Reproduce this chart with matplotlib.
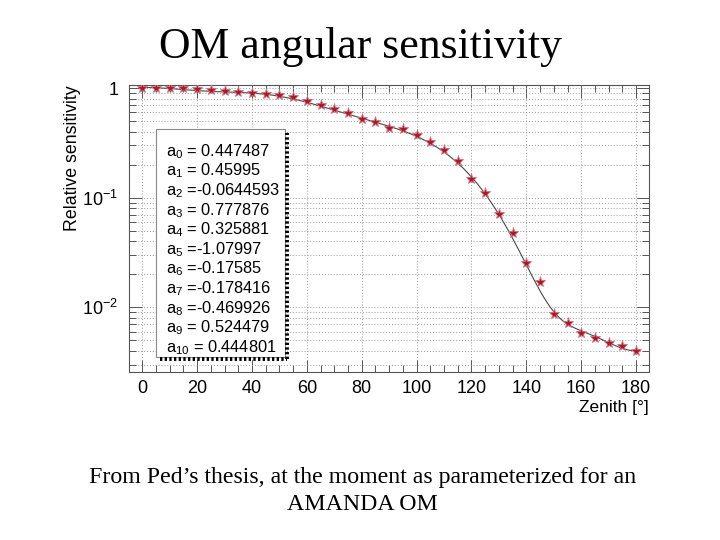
import numpy as np
import matplotlib
matplotlib.use("Agg")
import matplotlib.pyplot as plt
from matplotlib.patches import Rectangle
from matplotlib.lines import Line2D
from matplotlib.ticker import FixedLocator, LogLocator, NullFormatter, MultipleLocator

plt.rcParams["font.family"] = ["Liberation Sans", "DejaVu Sans"]
plt.rcParams["mathtext.fontset"] = "custom"
plt.rcParams["mathtext.rm"] = "Liberation Sans"
plt.rcParams["mathtext.it"] = "Liberation Sans:italic"

# ─────────────────────────────────────────────
# Data
# ─────────────────────────────────────────────
zenith = [0, 5, 10, 15, 20, 25, 30, 35, 40, 45, 50, 55, 60, 65, 70, 75, 80, 85,
          90, 95, 100, 105, 110, 115, 120, 125, 130, 135, 140, 145, 150, 155,
          160, 165, 170, 175, 180]
sensitivity = [1.0, 0.998, 0.995, 0.99, 0.985, 0.965, 0.945, 0.925, 0.895, 0.876,
               0.858, 0.823, 0.766, 0.704, 0.644, 0.592, 0.525, 0.493, 0.435,
               0.420, 0.373, 0.324, 0.272, 0.214, 0.147, 0.110, 0.071, 0.048,
               0.0255, 0.0171, 0.0087, 0.00725, 0.0058, 0.0053, 0.00476,
               0.00445, 0.00403]

# fit parameters shown in the box: sum a_i * cos(theta)^i
fit_params = [0.447487, 0.45995, -0.0644593, 0.777876, 0.325881, -1.07997,
              -0.17585, -0.178416, -0.469926, 0.524479, 0.444801]
param_labels = ["0.447487", "0.45995", "-0.0644593", "0.777876", "0.325881",
                "-1.07997", "-0.17585", "-0.178416", "-0.469926", "0.524479",
                "0.444801"]

x_ticks = [0, 20, 40, 60, 80, 100, 120, 140, 160, 180]
y_ticks = [1e-2, 1e-1, 1]
y_tick_labels = [r"$\mathregular{10^{-2}}$", r"$\mathregular{10^{-1}}$", "1"]

GRID = "#9a9a9a"
FRAME = "#555555"

fig = plt.figure(figsize=(7.2, 5.4), dpi=100)
ax = fig.add_axes([0.1796, 0.3117, 0.7218, 0.5303])

# fit curve
theta = np.linspace(0, 180, 721)
c = np.cos(np.radians(theta))
fit = sum(a * c ** i for i, a in enumerate(fit_params))
ax.plot(theta, fit, color="#4a4a4a", lw=0.8, zorder=3)

# measured points
ax.plot(zenith, sensitivity, ls="none", marker="*", ms=8,
        markerfacecolor="#a51d2d", markeredgecolor="#d9707c", markeredgewidth=0.6,
        zorder=4)

ax.set_yscale("log")
ax.set_xlim(-4.7, 184.7)
ax.set_ylim(0.00259, 1.058)

ax.xaxis.set_major_locator(FixedLocator(x_ticks))
ax.xaxis.set_minor_locator(MultipleLocator(5))
ax.set_yticks(y_ticks)
ax.set_yticklabels(y_tick_labels)
ax.yaxis.set_minor_locator(LogLocator(base=10, subs=np.arange(2, 10)))
ax.yaxis.set_minor_formatter(NullFormatter())

ax.tick_params(which="both", direction="in", top=True, right=True, color=FRAME,
               width=0.7)
ax.tick_params(which="major", length=9, labelsize=13, pad=6)
ax.tick_params(which="minor", length=5)
ax.tick_params(axis="y", which="major", pad=8)

ax.grid(True, which="major", axis="x", ls=(0, (1, 2)), color=GRID, lw=0.7)
ax.grid(True, which="both", axis="y", ls=(0, (1, 2)), color=GRID, lw=0.7)
ax.set_axisbelow(True)
for s in ax.spines.values():
    s.set_color(FRAME)
    s.set_linewidth(0.8)

ax.set_xlabel("Zenith [°]", fontsize=12.5, loc="right")
ax.xaxis.set_label_coords(1.0, -0.1)
ax.set_ylabel("Relative sensitivity", fontsize=12.8, loc="top")
ax.yaxis.set_label_coords(-0.092, 1.0)

# ─────────────────────────────────────────────
# Parameter box (ROOT style with shadow)
# ─────────────────────────────────────────────
W, H = 720.0, 540.0
bx0, by0, bx1, by1 = 155.5 / W, 1 - 357 / H, 285 / W, 1 - 128.5 / H
box = Rectangle((bx0, by0), bx1 - bx0, by1 - by0, transform=fig.transFigure,
                facecolor="white", edgecolor="#8a8a8a", lw=0.8, zorder=5)
fig.add_artist(box)
fig.add_artist(Line2D([bx1 + 1.5 / W, bx1 + 1.5 / W], [by0 - 1.5 / H, by1 - 4 / H],
                      transform=fig.transFigure, color="black", lw=2.8,
                      ls=(0, (0.6, 0.6)), zorder=6))
fig.add_artist(Line2D([bx0 + 4 / W, bx1 + 1.5 / W], [by0 - 1.5 / H, by0 - 1.5 / H],
                      transform=fig.transFigure, color="black", lw=2.8,
                      ls=(0, (0.6, 0.6)), zorder=6))

for i, val in enumerate(param_labels):
    sep = " =" if val.startswith("-") else " = "
    y = 1 - (151.5 + i * 19.6) / H
    fig.text(166.5 / W, y, r"a$_{\mathregular{%d}}$%s%s" % (i, sep, val),
             fontsize=11.8, va="center", ha="left", zorder=7)

# ─────────────────────────────────────────────
# Title and caption
# ─────────────────────────────────────────────
fig.text(0.5, 1 - 47 / H, "OM angular sensitivity", family="Liberation Serif",
         fontsize=31.5, ha="center", va="center")
fig.text(0.503, 1 - 477 / H,
         "From Ped\u2019s thesis, at the moment as parameterized for an",
         family="Liberation Serif", fontsize=17.2, ha="center", va="center")
fig.text(0.503, 1 - 505 / H, "AMANDA OM", family="Liberation Serif",
         fontsize=17.2, ha="center", va="center")

fig.savefig("out.png", dpi=100, facecolor="white")
